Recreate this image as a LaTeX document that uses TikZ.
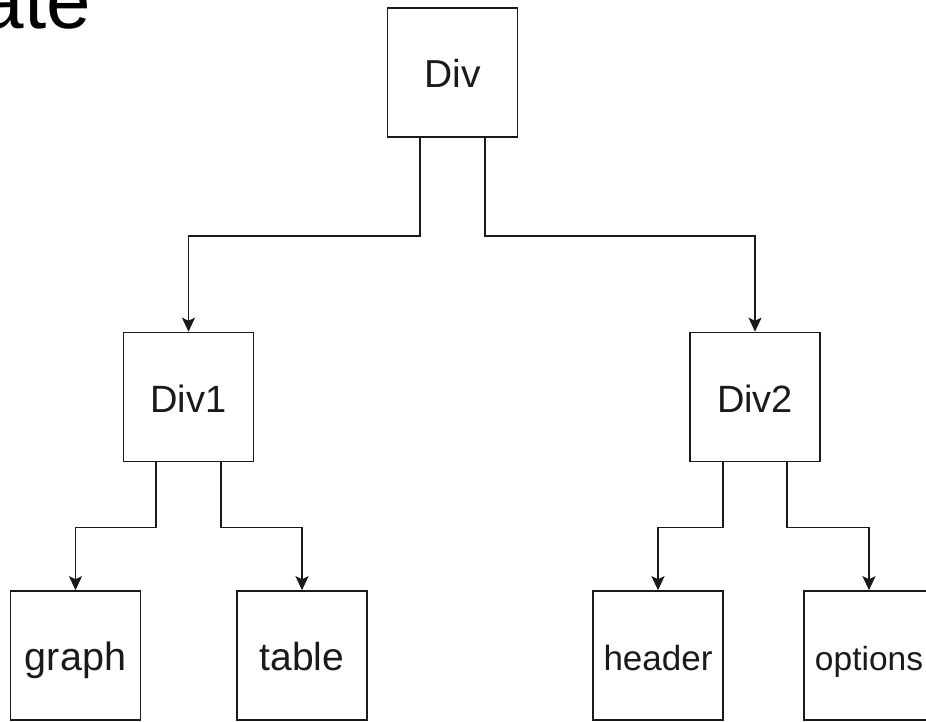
\documentclass[tikz,border=0pt]{standalone}
\usepackage{fontspec}
\setmainfont{Liberation Sans}
\usetikzlibrary{arrows.meta}
\definecolor{ink}{HTML}{1A1A1A}
\tikzset{
  box/.style={draw=ink, line width=1.6pt, minimum width=130pt, minimum height=129pt, inner sep=0pt, text=ink, fill=white, text height=30pt, text depth=0pt},
  arr/.style={draw=ink, line width=1.6pt, -{Stealth[length=14pt,width=13pt,inset=3pt]}},
}
\begin{document}
\begin{tikzpicture}[x=1pt,y=-1pt]
\useasboundingbox[fill=white] (0,0) rectangle (926,721);
\node[anchor=base east, font=\fontsize{80}{90}\selectfont, text=black, inner sep=0pt] (title) at (91,28) {ate};
\node[box, font=\fontsize{39}{44}\selectfont] (div) at (452.5,72.5) {Div};
\node[box, font=\fontsize{38}{44}\selectfont] (div1) at (188.5,397) {Div1};
\node[box, font=\fontsize{38}{44}\selectfont] (div2) at (755,397) {Div2};
\node[box, font=\fontsize{39.5}{44}\selectfont] (graph) at (75.5,655.5) {graph};
\node[box, font=\fontsize{39}{44}\selectfont] (table) at (302,655.5) {table};
\node[box, font=\fontsize{35}{42}\selectfont] (header) at (658,655.5) {header};
\node[box, font=\fontsize{33.5}{40}\selectfont] (options) at (869,655.5) {options};
\draw[arr] ([xshift=-32.5pt]div.south) -- ++(0,98) -| (div1.north);
\draw[arr] ([xshift=32.5pt]div.south) -- ++(0,98) -| (div2.north);
\draw[arr] ([xshift=-32.5pt]div1.south) -- ++(0,65) -| (graph.north);
\draw[arr] ([xshift=32.5pt]div1.south) -- ++(0,65) -| (table.north);
\draw[arr] ([xshift=-32pt]div2.south) -- ++(0,65) -| (header.north);
\draw[arr] ([xshift=32pt]div2.south) -- ++(0,65) -| (options.north);
\end{tikzpicture}
\end{document}
